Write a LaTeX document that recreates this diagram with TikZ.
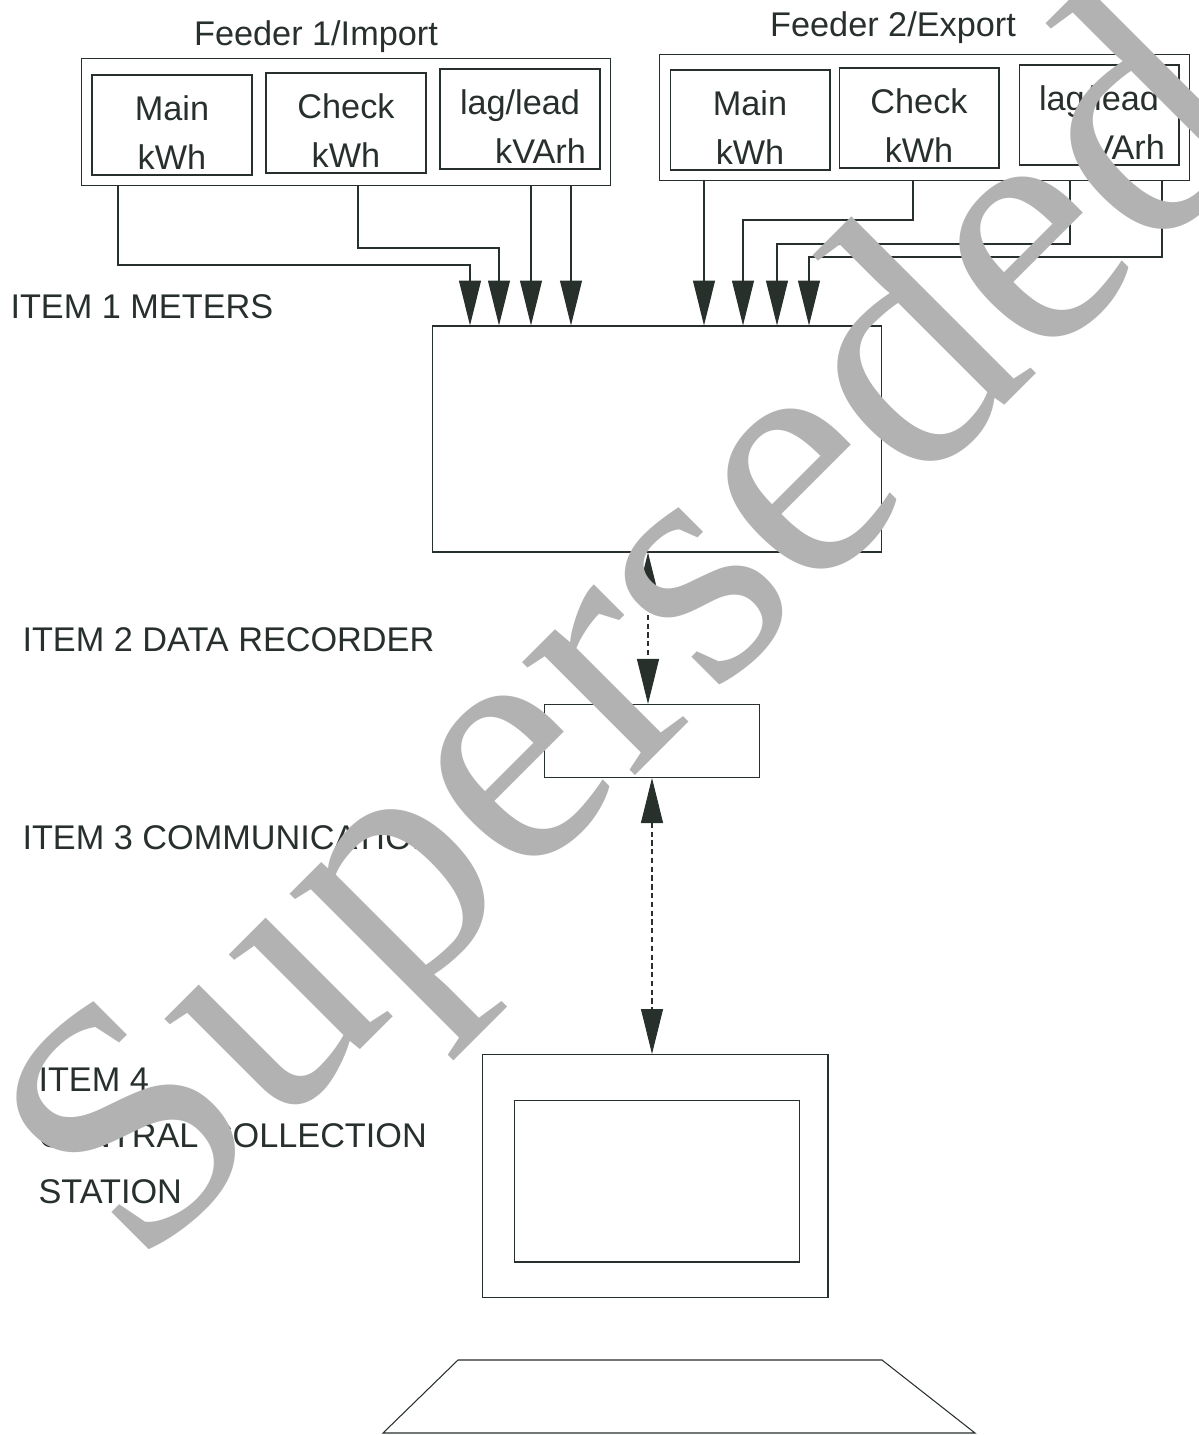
\documentclass[tikz,border=0pt]{standalone}
\usepackage{fontspec}
\setmainfont{Liberation Sans}
\newfontfamily\stampfont{Liberation Serif}
\usetikzlibrary{arrows.meta,positioning,fit}
\definecolor{ink}{RGB}{40,48,44}
\definecolor{stampgray}{RGB}{178,178,178}

\begin{document}
\begin{tikzpicture}[x=0.02cm,y=-0.02cm,color=ink,line width=0.6pt,
  >={Triangle[length=0.9cm,width=0.44cm]},
  every node/.style={font=\fontsize{19.5}{28}\selectfont},
  meter/.style={draw,minimum width=3.2cm,minimum height=2cm,align=center,inner sep=0pt,text height=51pt},
  feeder/.style={draw,inner sep=0.2cm},
  unit/.style={draw,inner sep=0pt},
  item/.style={anchor=west,align=left,inner sep=0pt,font=\fontsize{19.5}{32}\selectfont}]
  \useasboundingbox (0,0) rectangle (1198,1435);
  % feeder 1
  \node[meter] (f1main) at (172,125) {Main\\kWh};
  \node[meter] (f1check) at (346,123) {Check\\kWh};
  \node[meter] (f1lag) at (520,119) {lag/lead\\\hspace*{1.2em}kVArh};
  \node[feeder,fit=(f1main)(f1check)(f1lag)] (f1) {};
  \node (f1title) at (316,37) {Feeder 1/Import};
  % feeder 2
  \node[meter] (f2main) at (750,120) {Main\\kWh};
  \node[meter] (f2check) at (919,118) {Check\\kWh};
  \node[meter] (f2lag) at (1099,115) {lag/lead\\\hspace*{1.2em}kVArh};
  \node[feeder,fit=(f2main)(f2check)(f2lag)] (f2) {};
  \node (f2title) at (893,28) {Feeder 2/Export};
  % units
  \node[unit,minimum width=8.98cm,minimum height=4.52cm] (recorder) at (657,439) {};
  \node[unit,minimum width=4.3cm,minimum height=1.46cm] (comm) at (652,741) {};
  \node[unit,minimum width=6.92cm,minimum height=4.86cm] (monitor) at (655,1176) {};
  \node[unit,minimum width=5.7cm,minimum height=3.24cm] (screen) at (657,1181) {};
  \draw (458,1360) -- (882,1360) -- (975,1433) -- (383,1433) -- cycle;
  % meter lines
  \draw[->] (f1.south -| 118,0) |- (470,265) -- (recorder.north -| 470,0);
  \draw[->] (f1.south -| 358,0) |- (499,248) -- (recorder.north -| 499,0);
  \draw[->] (f1.south -| 531,0) -- (recorder.north -| 531,0);
  \draw[->] (f1.south -| 571,0) -- (recorder.north -| 571,0);
  \draw[->] (f2.south -| 704,0) -- (recorder.north -| 704,0);
  \draw[->] (f2.south -| 913,0) |- (743,220) -- (recorder.north -| 743,0);
  \draw[->] (f2.south -| 1070,0) |- (777,244) -- (recorder.north -| 777,0);
  \draw[->] (f2.south -| 1162,0) |- (809,257) -- (recorder.north -| 809,0);
  % links
  \draw[<->,densely dashed] (recorder.south -| 648,0) -- (comm.north -| 648,0);
  \draw[<->,densely dashed] (comm.south -| 652,0) -- (monitor.north -| 652,0);
  % labels
  \node[item] (item1) at (10,307) {ITEM 1 METERS};
  \node[item] (item2) at (22,640) {ITEM 2 DATA RECORDER};
  \node[item] (item3) at (22,838) {ITEM 3 COMMUNICATION};
  \node[item] (item4) at (38,1136) {ITEM 4\\CENTRAL COLLECTION\\STATION};
  % watermark
  \node[rotate=45,text=stampgray,inner sep=0pt,font=\stampfont\fontsize{198}{198}\selectfont] (stamp) at (646,646) {Superseded};
\end{tikzpicture}
\end{document}
